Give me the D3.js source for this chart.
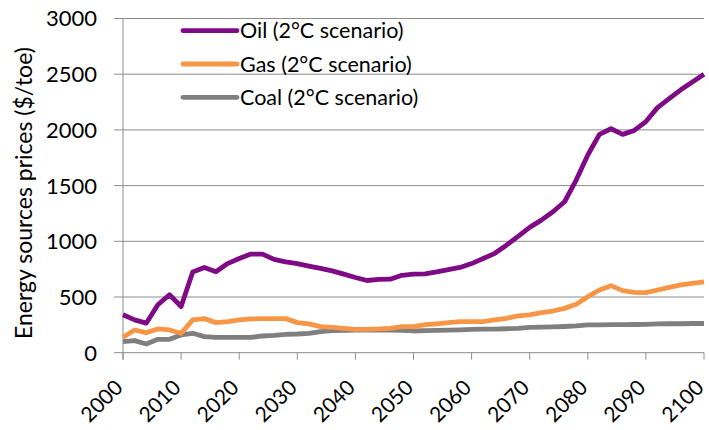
<!DOCTYPE html>
<html>
<head>
<meta charset="utf-8">
<script src="https://cdn.jsdelivr.net/npm/d3@7"></script>
<style>
  body { margin: 0; background: #fff; }
  text { font-family: Lato, "Open Sans", sans-serif; fill: #000; }
</style>
</head>
<body>
<svg id="chart"></svg>
<script>
// years, every 2 years
let years = [2000,2002,2004,2006,2008,2010,2012,2014,2016,2018,
             2020,2022,2024,2026,2028,2030,2032,2034,2036,2038,
             2040,2042,2044,2046,2048,2050,2052,2054,2056,2058,
             2060,2062,2064,2066,2068,2070,2072,2074,2076,2078,
             2080,2082,2084,2086,2088,2090,2092,2094,2096,2098,2100]

let oil = [340,295,265,430,520,415,725,765,727,800,
           845,885,885,838,815,800,778,757,735,705,
           675,648,658,660,695,705,708,725,745,765,
           800,845,892,965,1045,1125,1190,1265,1355,1550,
           1775,1960,2010,1960,1995,2075,2200,2280,2360,2430,2500]

let gas = [138,204,180,213,204,174,294,306,270,279,
           294,303,306,306,306,270,258,234,228,219,
           210,210,213,219,234,234,252,258,270,279,
           279,279,294,309,330,339,359,374,398,434,
           503,563,602,557,542,539,563,587,608,623,635]

let coal = [99,108,78,120,120,159,174,144,138,138,
            138,138,150,156,165,168,174,189,198,200,
            202,202,203,203,200,195,198,200,202,205,
            210,212,212,215,218,228,230,232,235,240,
            249,250,252,252,253,255,258,260,260,262,262]

let yTicks = [0,500,1000,1500,2000,2500,3000]
let xTicks = [2000,2010,2020,2030,2040,2050,2060,2070,2080,2090,2100]

let series = [
    { name: "Oil (2°C scenario)", values: oil, color: "#7f0a86" },
    { name: "Gas (2°C scenario)", values: gas, color: "#f79646" },
    { name: "Coal (2°C scenario)", values: coal, color: "#7f7f7f" }
]

let w = 709
let h = 430
let svg = d3.select("#chart").attr("width", w).attr("height", h)

let x = d3.scaleLinear().domain([2000, 2100]).range([123, 704])
let y = d3.scaleLinear().domain([0, 3000]).range([352.7, 18.5])

// gridlines
svg.append("g")
    .selectAll("line")
    .data(yTicks)
    .join("line")
    .attr("x1", 114)
    .attr("x2", x(2100))
    .attr("y1", d => y(d))
    .attr("y2", d => y(d))
    .attr("stroke", "#8c8c8c")
    .attr("stroke-width", 1)

// y axis line
svg.append("line")
    .attr("x1", x(2000)).attr("x2", x(2000))
    .attr("y1", y(3000)).attr("y2", y(0) + 7)
    .attr("stroke", "#8c8c8c")

// x ticks
svg.append("g")
    .selectAll("line")
    .data(xTicks)
    .join("line")
    .attr("x1", d => x(d))
    .attr("x2", d => x(d))
    .attr("y1", y(0))
    .attr("y2", y(0) + 7)
    .attr("stroke", "#8c8c8c")

// y labels
svg.append("g")
    .selectAll("text")
    .data(yTicks)
    .join("text")
    .attr("x", 97)
    .attr("y", d => y(d))
    .attr("dy", "0.36em")
    .attr("text-anchor", "end")
    .style("font-size", "22px")
    .text(d => d)

// x labels, rotated
svg.append("g")
    .selectAll("text")
    .data(xTicks)
    .join("text")
    .attr("transform", d => `translate(${x(d) + 1},389) rotate(-45)`)
    .attr("text-anchor", "end")
    .style("font-size", "21px")
    .text(d => d)

// y title
svg.append("text")
    .attr("transform", "translate(24,193) rotate(-90)")
    .attr("text-anchor", "middle")
    .attr("dy", "0.36em")
    .style("font-size", "23px")
    .text("Energy sources prices ($/toe)")

// lines
let line = d3.line()
    .x((d, i) => x(years[i]))
    .y(d => y(d))

svg.append("g")
    .selectAll("path")
    .data(series.slice().reverse())
    .join("path")
    .attr("d", d => line(d.values))
    .attr("fill", "none")
    .attr("stroke", d => d.color)
    .attr("stroke-width", 4.8)
    .attr("stroke-linejoin", "round")

// legend
let legend = svg.append("g")
    .selectAll("g")
    .data(series)
    .join("g")
    .attr("transform", (d, i) => `translate(183,${30.7 + i * 33.3})`)

legend.append("line")
    .attr("x1", 0).attr("x2", 54)
    .attr("stroke", d => d.color)
    .attr("stroke-width", 4.8)
    .attr("stroke-linecap", "round")

legend.append("text")
    .attr("x", 57)
    .attr("dy", "0.36em")
    .style("font-size", "21.5px")
    .text(d => d.name)
</script>
</body>
</html>
